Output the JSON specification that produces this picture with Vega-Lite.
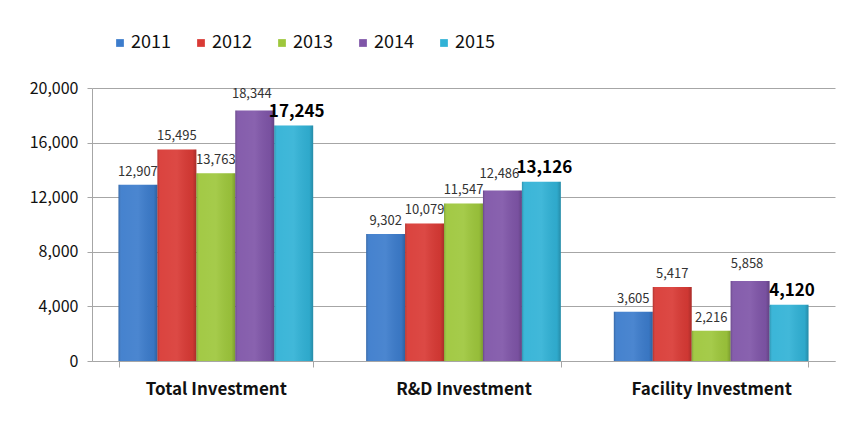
{
  "$schema": "https://vega.github.io/schema/vega-lite/v6.json",
  "width": 743,
  "height": 273,
  "autosize": {"type": "none"},
  "padding": {"left": 92, "top": 88, "right": 9, "bottom": 69},
  "background": "white",
  "data": {
    "values": [
      {"category": "Total Investment", "year": "2011", "value": 12907},
      {"category": "Total Investment", "year": "2012", "value": 15495},
      {"category": "Total Investment", "year": "2013", "value": 13763},
      {"category": "Total Investment", "year": "2014", "value": 18344},
      {"category": "Total Investment", "year": "2015", "value": 17245},
      {"category": "R&D Investment", "year": "2011", "value": 9302},
      {"category": "R&D Investment", "year": "2012", "value": 10079},
      {"category": "R&D Investment", "year": "2013", "value": 11547},
      {"category": "R&D Investment", "year": "2014", "value": 12486},
      {"category": "R&D Investment", "year": "2015", "value": 13126},
      {"category": "Facility Investment", "year": "2011", "value": 3605},
      {"category": "Facility Investment", "year": "2012", "value": 5417},
      {"category": "Facility Investment", "year": "2013", "value": 2216},
      {"category": "Facility Investment", "year": "2014", "value": 5858},
      {"category": "Facility Investment", "year": "2015", "value": 4120}
    ]
  },
  "encoding": {
    "x": {
      "field": "category", "type": "nominal",
      "sort": ["Total Investment", "R&D Investment", "Facility Investment"],
      "scale": {"paddingInner": 0.214, "paddingOuter": 0.107},
      "axis": {
        "title": null, "labelAngle": 0, "tickBand": "extent",
        "labelFont": "Noto Sans CJK KR", "labelFontSize": 17, "labelFontWeight": "bold",
        "labelColor": "#111111", "labelPadding": 14,
        "domainColor": "#a6a6a6", "tickColor": "#a6a6a6", "tickSize": 6
      }
    },
    "xOffset": {"field": "year", "type": "nominal", "scale": {"paddingInner": 0, "paddingOuter": 0}},
    "y": {
      "field": "value", "type": "quantitative",
      "scale": {"domain": [0, 20000], "nice": false},
      "axis": {
        "title": null, "values": [0, 4000, 8000, 12000, 16000, 20000], "format": ",.0f",
        "labelFont": "Noto Sans CJK KR", "labelFontSize": 16, "labelColor": "#111111",
        "labelPadding": 9, "gridColor": "#a6a6a6", "domainColor": "#a6a6a6",
        "tickColor": "#a6a6a6", "tickSize": 5
      }
    }
  },
  "layer": [
    {
      "mark": {"type": "bar"},
      "encoding": {
        "color": {
          "field": "year", "type": "nominal",
          "scale": {"domain": ["2011", "2012", "2013", "2014", "2015"],
                    "range": ["#3c7ccc", "#d93a35", "#9ec73c", "#7f55a8", "#31b2d6"]},
          "legend": {
            "title": null, "orient": "none", "direction": "horizontal", "columns": 5,
            "legendX": 19, "legendY": -54, "symbolType": "square", "symbolSize": 60,
            "symbolStrokeWidth": 0, "symbolOpacity": 1,
            "labelFont": "Noto Sans CJK KR", "labelFontSize": 18, "labelColor": "#111111",
            "labelOffset": 2, "columnPadding": 21
          }
        }
      }
    },
    {
      "mark": {
        "type": "bar",
        "fill": {
          "gradient": "linear", "x1": 0, "x2": 1, "y1": 0, "y2": 0,
          "stops": [
            {"offset": 0, "color": "rgba(0,0,0,0.18)"},
            {"offset": 0.08, "color": "rgba(255,255,255,0.05)"},
            {"offset": 0.5, "color": "rgba(255,255,255,0.08)"},
            {"offset": 0.9, "color": "rgba(0,0,0,0.05)"},
            {"offset": 1, "color": "rgba(0,0,0,0.22)"}
          ]
        }
      },
      "encoding": {}
    },
    {
      "transform": [{"filter": "datum.year != '2015' && datum.year != '2014'"}],
      "mark": {"type": "text", "baseline": "bottom", "dy": -6, "font": "Noto Sans CJK KR", "fontSize": 13, "color": "#333333"},
      "encoding": {"text": {"field": "value", "type": "quantitative", "format": ","}}
    },
    {
      "transform": [{"filter": "datum.year == '2014'"}],
      "mark": {"type": "text", "baseline": "bottom", "dy": -10, "dx": -3, "font": "Noto Sans CJK KR", "fontSize": 13, "color": "#333333"},
      "encoding": {"text": {"field": "value", "type": "quantitative", "format": ","}}
    },
    {
      "transform": [{"filter": "datum.year == '2015'"}],
      "mark": {"type": "text", "baseline": "bottom", "dy": -5, "dx": 3, "font": "Noto Sans CJK KR", "fontSize": 17, "fontWeight": "bold", "color": "#000000"},
      "encoding": {"text": {"field": "value", "type": "quantitative", "format": ","}}
    }
  ],
  "config": {"view": {"stroke": null}}
}
